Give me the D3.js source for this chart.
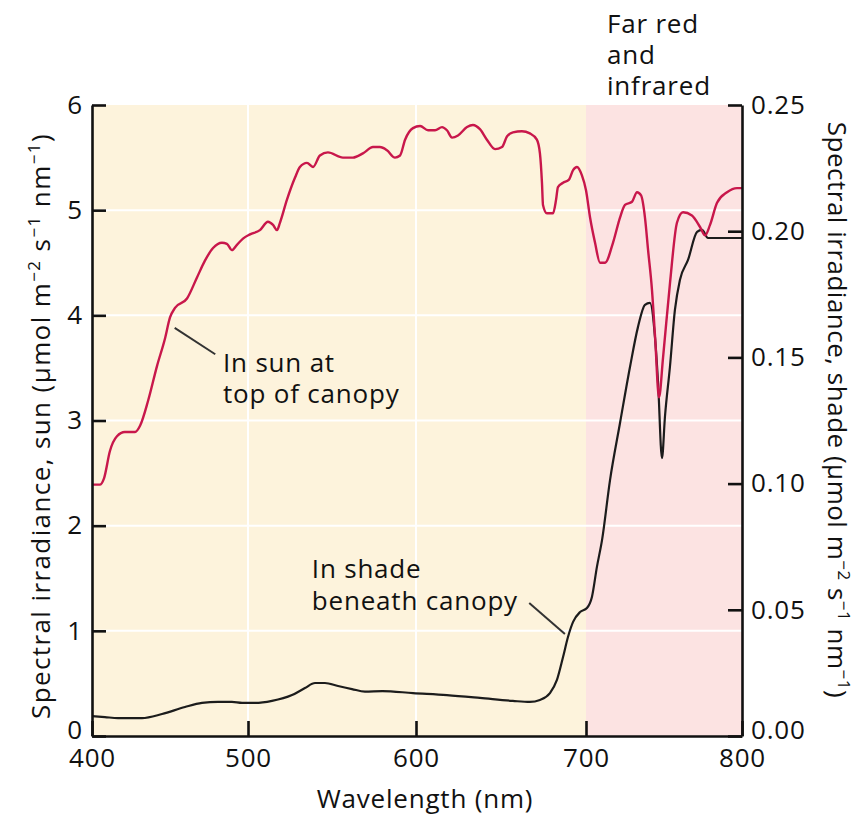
<!DOCTYPE html>
<html>
<head>
<meta charset="utf-8">
<script src="https://cdn.jsdelivr.net/npm/d3@7"></script>
<style>
  body { margin: 0; background: #fff; }
  svg text { font-family: "Open Sans", "Noto Sans", sans-serif; fill: #111; letter-spacing: 0.8px; }
</style>
</head>
<body>
<div id="chart"></div>
<script>
// ---- data ----
const xTicks = [400, 500, 600, 700, 800];
const sunTicks = [0, 1, 2, 3, 4, 5, 6];
const shadeTicks = [0, 0.05, 0.10, 0.15, 0.20, 0.25];

// sun, top of canopy (left axis)
const sunWavelength = [400, 405, 407.7, 411.5, 416, 421, 427.6, 430.8, 436, 441.7, 446.8, 450, 453.2, 460.9, 467.3,
  472.4, 477.6, 483.3, 486.5, 489.7, 492.9, 496.8, 501.2, 507.1, 511.9, 514.9, 517.3, 519, 523.2, 528, 530.9,
  535.1, 538.7, 542.8, 547.6, 556.5, 562.5, 568.4, 574.4, 578.5, 582.7, 587.5, 590.5, 593.5, 598.2, 602.4,
  607.1, 611.2, 615.3, 618.2, 621.2, 624.7, 630, 633.5, 637.6, 641.7, 646.5, 650.6, 653.5, 657, 662.3, 667,
  671.1, 672.9, 674.1, 674.7, 677, 680.6, 682.4, 683.5, 686.5, 690, 692.4, 694.7, 697.6, 700, 702.6, 705.8,
  709, 712.2, 717.3, 721.8, 725, 729.5, 732.7, 735.3, 737.8, 739.8, 742.3, 744.3, 746.8, 749.4, 753.8, 758.3,
  762.2, 767.9, 773.1, 776.3, 779.5, 784, 790.4, 796.8, 800];
const sunValues = [2.39, 2.39, 2.45, 2.71, 2.85, 2.89, 2.89, 2.95, 3.19, 3.52, 3.78, 3.98, 4.07, 4.16, 4.36,
  4.52, 4.64, 4.69, 4.68, 4.62, 4.67, 4.73, 4.77, 4.81, 4.89, 4.86, 4.81, 4.88, 5.10, 5.31, 5.41,
  5.45, 5.41, 5.52, 5.55, 5.50, 5.50, 5.54, 5.60, 5.60, 5.57, 5.50, 5.52, 5.67, 5.78, 5.80,
  5.76, 5.76, 5.79, 5.76, 5.69, 5.71, 5.79, 5.81, 5.77, 5.67, 5.58, 5.60, 5.70, 5.74, 5.75, 5.73,
  5.67, 5.54, 5.26, 5.05, 4.97, 4.97, 5.10, 5.22, 5.26, 5.29, 5.38, 5.41, 5.33, 5.19, 4.93, 4.69,
  4.50, 4.50, 4.69, 4.93, 5.05, 5.08, 5.17, 5.14, 4.93, 4.62, 4.24, 3.79, 3.22, 3.60, 4.30, 4.88,
  4.98, 4.95, 4.84, 4.76, 4.86, 5.07, 5.17, 5.21, 5.21];

// shade beneath canopy (right axis)
const shadeWavelength = [400, 408.3, 416.7, 432, 444.9, 459.6, 470.5, 480.8, 489.7, 496.2, 504.2, 514.3, 526.2,
  533.9, 539.9, 545.8, 553.6, 561.9, 569.6, 580, 598.2, 618.2, 637.6, 657, 667, 672.9, 678.8, 682.9, 686.5,
  689.4, 692.4, 696.5, 700.6, 703.8, 707, 710.3, 715.4, 721.8, 728.2, 733.3, 737.8, 741, 744.2, 746.2, 748.7,
  750.6, 753.8, 757, 760.2, 765.4, 771.2, 774.4, 778.2, 800];
const shadeValues = [0.0079, 0.0075, 0.0071, 0.0071, 0.0087, 0.0115, 0.0131, 0.0135, 0.0135, 0.0131, 0.0131,
  0.0139, 0.0162, 0.0190, 0.0210, 0.0210, 0.0198, 0.0186, 0.0176, 0.0178, 0.0170, 0.0162, 0.0151, 0.0139,
  0.0135, 0.0143, 0.0170, 0.0222, 0.0313, 0.0392, 0.0452, 0.0491, 0.0507, 0.0551, 0.0670, 0.0777, 0.1014,
  0.1240, 0.1462, 0.1620, 0.1708, 0.1716, 0.1581, 0.1399, 0.1101, 0.1264, 0.1462, 0.1688, 0.1807, 0.1886,
  0.1997, 0.2005, 0.1973, 0.1973];

// ---- layout ----
const W = 856, H = 815;
const plot = {left: 92, right: 742, top: 105, bottom: 736};
const xTickPx = [92, 248, 416, 586, 742]; // figure axis is slightly uneven

const svg = d3.select("#chart").append("svg")
  .attr("width", W).attr("height", H);

const x = d3.scaleLinear().domain(xTicks).range(xTickPx);
const ySun = d3.scaleLinear().domain([0, 6]).range([plot.bottom, plot.top]);
const yShade = d3.scaleLinear().domain([0, 0.25]).range([plot.bottom, plot.top]);

// background bands
svg.append("rect")
  .attr("x", x(400)).attr("y", plot.top)
  .attr("width", x(700) - x(400)).attr("height", plot.bottom - plot.top)
  .attr("fill", "#fdf3dc");
svg.append("rect")
  .attr("x", x(700)).attr("y", plot.top)
  .attr("width", x(800) - x(700)).attr("height", plot.bottom - plot.top)
  .attr("fill", "#fce3e2");

// white grid
const grid = svg.append("g").attr("stroke", "#fff").attr("stroke-width", 2);
grid.selectAll(".gy").data(sunTicks.slice(1, -1)).enter().append("line")
  .attr("x1", plot.left).attr("x2", plot.right)
  .attr("y1", d => ySun(d)).attr("y2", d => ySun(d));
grid.selectAll(".gx").data([500, 600]).enter().append("line")
  .attr("y1", plot.top).attr("y2", plot.bottom)
  .attr("x1", d => x(d)).attr("x2", d => x(d));

// curves
const sunData = sunWavelength.map((w, i) => ({w, v: sunValues[i]}));
const shadeData = shadeWavelength.map((w, i) => ({w, v: shadeValues[i]}));

svg.append("path")
  .datum(shadeData)
  .attr("fill", "none")
  .attr("stroke", "#1c1c1c")
  .attr("stroke-width", 2.2)
  .attr("d", d3.line().x(d => x(d.w)).y(d => yShade(d.v)).curve(d3.curveMonotoneX));

svg.append("path")
  .datum(sunData)
  .attr("fill", "none")
  .attr("stroke", "#c8174b")
  .attr("stroke-width", 2.4)
  .attr("d", d3.line().x(d => x(d.w)).y(d => ySun(d.v)).curve(d3.curveMonotoneX));

// axes
const fs = 26;
const xAxis = d3.axisBottom(x).tickValues(xTicks).tickFormat(d3.format("d"))
  .tickSizeInner(-15).tickSizeOuter(0).tickPadding(13);
const yAxisL = d3.axisLeft(ySun).tickValues(sunTicks).tickFormat(d3.format("d"))
  .tickSizeInner(-14).tickSizeOuter(0).tickPadding(9);
const yAxisR = d3.axisRight(yShade).tickValues(shadeTicks).tickFormat(d3.format(".2f"))
  .tickSizeInner(-14).tickSizeOuter(0).tickPadding(9);

function styleAxis(g) {
  g.select(".domain").attr("stroke", "#111").attr("stroke-width", 2.6);
  g.selectAll(".tick line").attr("stroke", "#111").attr("stroke-width", 2.6);
  g.selectAll(".tick text").attr("font-size", fs).attr("font-family", null).attr("fill", "#111");
}

svg.append("g").attr("transform", `translate(0,${plot.bottom})`).call(xAxis).call(styleAxis);
const gL = svg.append("g").attr("transform", `translate(${plot.left},0)`).call(yAxisL).call(styleAxis);
const gR = svg.append("g").attr("transform", `translate(${plot.right},0)`).call(yAxisR).call(styleAxis);
// bottom-most value labels sit a little higher in the figure
gL.selectAll(".tick text").filter(d => d === 0).attr("dy", "0.08em");
gR.selectAll(".tick text").filter(d => d === 0).attr("dy", "0.08em");

// axis titles
svg.append("text")
  .attr("x", (plot.left + plot.right) / 2 + 8).attr("y", 808)
  .attr("text-anchor", "middle").attr("font-size", fs)
  .text("Wavelength (nm)");

function unitTitle(t, label) {
  t.append("tspan").text(label + " (μmol m");
  t.append("tspan").attr("font-size", 17).attr("dy", -10).text("−2");
  t.append("tspan").attr("dy", 10).text(" s");
  t.append("tspan").attr("font-size", 17).attr("dy", -10).text("−1");
  t.append("tspan").attr("dy", 10).text(" nm");
  t.append("tspan").attr("font-size", 17).attr("dy", -10).text("−1");
  t.append("tspan").attr("dy", 10).text(")");
}

const leftTitle = svg.append("text")
  .attr("transform", "translate(50,426) rotate(-90)")
  .attr("text-anchor", "middle").attr("font-size", fs)
  .style("letter-spacing", "1.4px");
unitTitle(leftTitle, "Spectral irradiance, sun");

const rightTitle = svg.append("text")
  .attr("transform", "translate(828,410) rotate(90)")
  .attr("text-anchor", "middle").attr("font-size", fs)
  .style("letter-spacing", "0.5px");
unitTitle(rightTitle, "Spectral irradiance, shade");

// region label
const farRed = svg.append("text").attr("font-size", fs);
["Far red", "and", "infrared"].forEach((s, i) => {
  farRed.append("tspan").attr("x", 607).attr("y", 33 + i * 31).text(s);
});

// annotations with leader lines
const ann = svg.append("g");
ann.append("line")
  .attr("x1", x(453)).attr("y1", ySun(3.88))
  .attr("x2", x(479)).attr("y2", ySun(3.63))
  .attr("stroke", "#333").attr("stroke-width", 2);
const sunLabel = ann.append("text").attr("font-size", fs);
["In sun at", "top of canopy"].forEach((s, i) => {
  sunLabel.append("tspan").attr("x", x(484)).attr("y", ySun(3.46) + i * 31).text(s);
});

ann.append("line")
  .attr("x1", x(666.6)).attr("y1", yShade(0.0527))
  .attr("x2", x(687.6)).attr("y2", yShade(0.0404))
  .attr("stroke", "#333").attr("stroke-width", 2);
const shadeLabel = ann.append("text").attr("font-size", fs);
["In shade", "beneath canopy"].forEach((s, i) => {
  shadeLabel.append("tspan").attr("x", x(538)).attr("y", ySun(1.5) + i * 32).text(s);
});
</script>
</body>
</html>
